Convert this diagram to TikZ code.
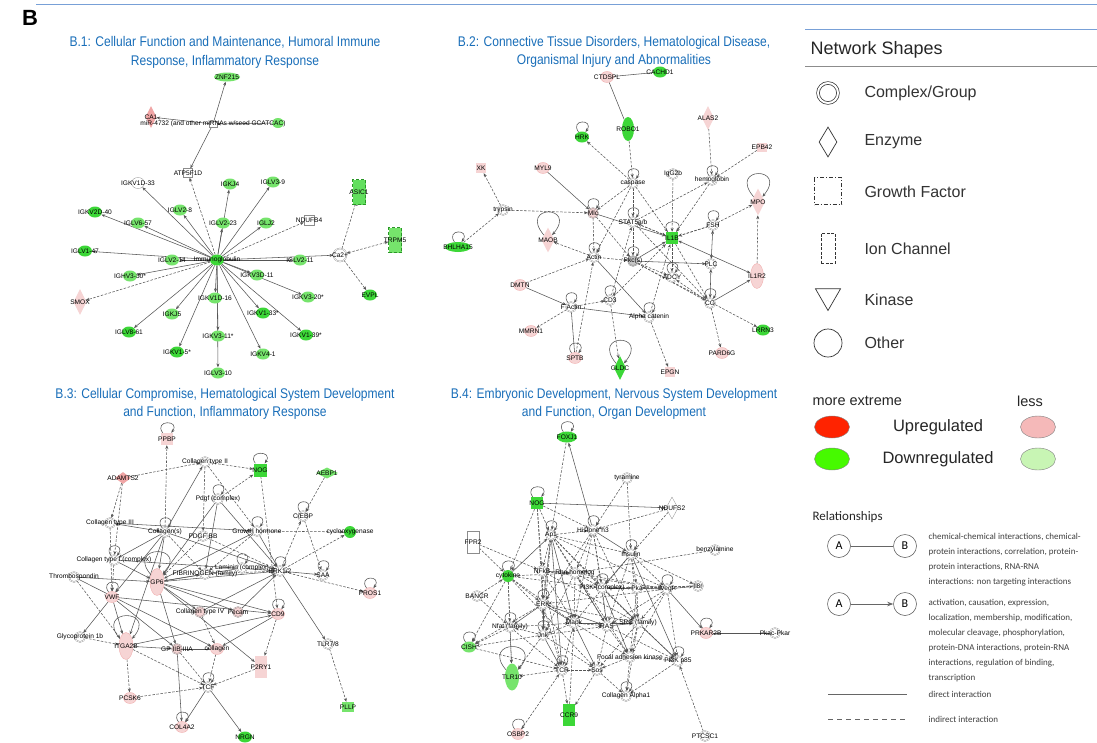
\documentclass[tikz,border=0pt]{standalone}
\usepackage{fontspec}
\setmainfont{Liberation Sans}
\newfontfamily\titlefont[FakeStretch=0.86]{Liberation Sans}
\newfontfamily\calfont{Carlito}
\usetikzlibrary{shapes.geometric,arrows.meta}

\definecolor{ttlblue}{RGB}{25,110,185}
\definecolor{gdark}{RGB}{60,215,55}
\definecolor{glight}{RGB}{118,228,108}
\definecolor{pinkn}{RGB}{246,212,212}
\definecolor{pinkd}{RGB}{240,165,165}
\definecolor{edgegray}{RGB}{85,85,85}
\definecolor{cxgray}{RGB}{140,140,140}
\definecolor{legred}{RGB}{255,35,0}
\definecolor{leggreen}{RGB}{70,250,0}
\definecolor{legpink}{RGB}{245,185,185}
\definecolor{legpale}{RGB}{200,245,180}
\definecolor{rulblue}{RGB}{120,160,215}

\pgfdeclarelayer{bg}
\pgfdeclarelayer{edges}
\pgfsetlayers{bg,edges,main}

\tikzset{
  lbl/.style={font=\fontsize{6.6}{7}\selectfont, inner sep=0pt},
  gd/.style={ellipse, fill=gdark, minimum width=14, minimum height=11, inner sep=0pt, label={[lbl]center:#1}},
  gl/.style={gd=#1, fill=glight},
  pk/.style={ellipse, fill=pinkn, draw=pinkd, line width=0.3pt, minimum width=13, minimum height=11, inner sep=0pt, label={[lbl]center:#1}},
  wh/.style={pk=#1, fill=white, draw=cxgray},
  cx/.style={circle, draw=cxgray, double=white, double distance=0.6pt, line width=0.35pt, fill=white, minimum size=10, inner sep=0pt, label={[lbl]center:#1}},
  cxp/.style={cx=#1, double=pinkn, fill=pinkn},
  enz/.style={diamond, fill=pinkn, minimum width=12, minimum height=24, inner sep=0pt, label={[lbl]center:#1}},
  box/.style={rectangle, fill=pinkn, minimum width=12, minimum height=22, inner sep=0pt, label={[lbl]center:#1}},
  ind/.style={dash pattern=on 2.5pt off 1.5pt},
  lp/.style={loop above, out=125, in=55, min distance=16},
  biglp/.style={loop above, out=130, in=50, min distance=40},
  ttl/.style={align=center, text=ttlblue, font={\titlefont\fontsize{14}{18.5}\selectfont}},
  legtxt/.style={anchor=west, text=black!80, font=\fontsize{16}{18}\selectfont},
  reltxt/.style={anchor=north west, align=left, text=black!75, font={\calfont\fontsize{9}{15}\selectfont}},
  abc/.style={circle, draw=black!60, line width=0.6pt, minimum size=23, inner sep=0pt, font={\calfont\fontsize{12}{12}\selectfont}}
}

\begin{document}
\begin{tikzpicture}[x=1pt, y=-1pt, >={Stealth[length=3.8pt,width=3pt]}]
\useasboundingbox (0,0) rectangle (1097,742);
\begin{pgfonlayer}{bg}
\fill[white] (0,0) rectangle (1097,742);
\end{pgfonlayer}

% frame and titles
\draw[rulblue, line width=0.8pt] (36,4) -- (1097,4);
\node[font=\bfseries\fontsize{22}{22}\selectfont] (panel) at (30,18) {B};
\node[ttl] (t1) at (225,52.5) {B.1: Cellular Function and Maintenance, Humoral Immune\\Response, Inflammatory Response};
\node[ttl] (t2) at (614,52) {B.2: Connective Tissue Disorders, Hematological Disease,\\Organismal Injury and Abnormalities};
\node[ttl] (t3) at (225,404) {B.3: Cellular Compromise, Hematological System Development\\and Function, Inflammatory Response};
\node[ttl] (t4) at (614,404) {B.4: Embryonic Development, Nervous System Development\\and Function, Organ Development};

% B.1
\node[gl=ZNF215, minimum width=26, minimum height=9] (znf) at (227,77) {};
\node[enz=CA1, fill=pinkd, minimum width=11, minimum height=22] (ca1) at (151,117) {};
\node[gl=, minimum width=12, minimum height=10] (gx) at (278,123) {};
\node[rectangle, draw=cxgray, fill=white, minimum width=8, minimum height=6, inner sep=0pt, label={[lbl]center:miR-4732 (and other miRNAs w/seed GCATCAC)}] (mir) at (213,124) {};
\node[rectangle, draw=cxgray, fill=white, minimum size=9, inner sep=0pt, label={[lbl]center:ATP5F1D}] (atp) at (188,173) {};
\node[wh=IGKV1D-33] (igkv1d33) at (138,183) {};
\node[gl=IGKJ4] (igkj4) at (230,184) {};
\node[gl=IGLV3-9] (iglv39) at (273,182) {};
\node[rectangle, fill=gdark!80!white, draw=gdark!70!black, densely dashed, line width=0.3pt, minimum width=13, minimum height=25, inner sep=0pt, label={[lbl]center:ASIC1}] (asic1) at (359,192) {};
\node[gd=IGKV2D-40] (igkv2d40) at (95,212) {};
\node[gl=IGLV2-8] (iglv28) at (180,210) {};
\node[gl=IGLV6-57] (iglv657) at (138,223) {};
\node[gl=IGLV2-23] (iglv223) at (223,223) {};
\node[gl=IGLJ2] (iglj2) at (266,223) {};
\node[rectangle, draw=cxgray, fill=white, minimum size=10, inner sep=0pt, label={[lbl]center:NDUFB4}] (ndufb4) at (309,220) {};
\node[rectangle, fill=glight, draw=gdark!70!black, densely dashed, line width=0.3pt, minimum width=13, minimum height=25, inner sep=0pt, label={[lbl]center:TRPM5}] (trpm5) at (395,240) {};
\node[gd=IGLV1-47] (iglv147) at (85,251) {};
\node[gd=Immunoglobulin] (ig) at (217,260) {};
\node[gl=IGLV2-14] (iglv214) at (172,260) {};
\node[gl=IGLV2-11] (iglv211) at (300,260) {};
\node[cx=Ca2+, minimum size=13] (ca) at (340,255) {};
\node[gl=IGHV3-30*] (ighv330) at (130,276) {};
\node[gl=IGKV3D-11] (igkv3d11) at (257,275) {};
\node[enz=SMOX, minimum width=13, minimum height=26] (smox) at (80,302) {};
\node[gl=IGKV1D-16] (igkv1d16) at (215,298) {};
\node[gl=IGKV3-20*] (igkv320) at (308,297) {};
\node[gd=EVPL] (evpl) at (370,295) {};
\node[gl=IGKJ5] (igkj5) at (172,314) {};
\node[gd=IGKV1-33*] (igkv133) at (263,313) {};
\node[gd=IGLV8-61] (iglv861) at (129,332) {};
\node[gl=IGKV3-11*] (igkv311) at (218,336) {};
\node[gd=IGKV1-39*] (igkv139) at (306,335) {};
\node[gd=IGKV1-5*] (igkv15) at (177,352) {};
\node[gl=IGKV4-1] (igkv41) at (263,354) {};
\node[gl=IGLV3-10] (iglv310) at (218,373) {};

% B.2
\node[pk=CTDSPL] (ctdspl) at (607,77) {};
\node[gd=CACHD1] (cachd1) at (660,72) {};
\node[gd=ROBO1, minimum width=12, minimum height=24] (robo1) at (628,129) {};
\node[gd=HRK] (hrk) at (582,137) {};
\node[enz=ALAS2] (alas2) at (708,118) {};
\node[box=EPB42, minimum width=10, minimum height=9] (epb42) at (762,147) {};
\node[box=XK, minimum width=10, minimum height=10] (xk) at (481,168) {};
\node[pk=MYL9] (myl9) at (543,168) {};
\node[cx=caspase] (caspase) at (633,183) {};
\node[cx=IgG2b] (igg2b) at (673,174) {};
\node[cx=hemoglobin] (hemo) at (712,180) {};
\node[enz=MPO, minimum width=14, minimum height=27] (mpo) at (758,202) {};
\node[cx=trypsin] (trypsin) at (503,210) {};
\node[cxp=Mlc] (mlc) at (593,213) {};
\node[cx=STAT5a/b] (stat5) at (633,222) {};
\node[cx=FSH] (fsh) at (713,225) {};
\node[enz=MAOB, minimum width=13, minimum height=25] (maob) at (548,240) {};
\node[gd=BHLHA15, minimum width=26, minimum height=10] (bhlha15) at (458,247) {};
\node[rectangle, fill=gdark, minimum size=12, inner sep=0pt, label={[lbl]center:IL1B}] (il1b) at (672,238) {};
\node[cx=Actin] (actin) at (594,257) {};
\node[cx=Pkc(s), double=gray!45, fill=gray!45] (pkc) at (633,261) {};
\node[cx=PLC] (plc) at (711,264) {};
\node[pk=IL1R2, minimum width=13, minimum height=25] (il1r2) at (757,276) {};
\node[cx=ADCY] (adcy) at (672,277) {};
\node[pk=DMTN] (dmtn) at (520,285) {};
\node[cx=CG] (cg) at (710,303) {};
\node[cx=CD3] (cd3) at (610,300) {};
\node[cx=F Actin] (factin) at (571,307) {};
\node[cx=Alpha catenin] (alphacat) at (649,317) {};
\node[pk=MMRN1] (mmrn1) at (531,331) {};
\node[gd=LRRN3] (lrrn3) at (763,330) {};
\node[pk=SPTB] (sptb) at (575,358) {};
\node[enz=GLDC, fill=gdark, minimum width=12, minimum height=24] (gldc) at (620,368) {};
\node[box=EPGN, minimum width=10, minimum height=10] (epgn) at (670,372) {};
\node[pk=PARD6G] (pard6g) at (722,353) {};

% B.3
\node[box=PPBP, minimum width=12, minimum height=12] (ppbp) at (167,439) {};
\node[cx=Collagen type II] (col2) at (205,462) {};
\node[box=NOG, fill=gdark, minimum width=13, minimum height=13] (nog) at (260,470) {};
\node[enz=AEBP1, fill=glight, minimum width=22, minimum height=11] (aebp1) at (327,473) {};
\node[enz=ADAMTS2, fill=pinkd, minimum width=16, minimum height=12] (adamts2) at (123,478) {};
\node[cx=Pdgf (complex)] (pdgfc) at (218,499) {};
\node[cx=C/EBP] (cebp) at (303,516) {};
\node[cx=Collagen type III] (col3) at (110,523) {};
\node[cx=Collagen(s)] (cols) at (165,532) {};
\node[cx=PDGF BB] (pdgfbb) at (203,536) {};
\node[cx=Growth hormone] (gh) at (257,531) {};
\node[gd=cyclooxygenase, minimum width=12, minimum height=12] (cox) at (350,532) {};
\node[cx=Collagen type I (complex)] (col1) at (114,560) {};
\node[cx=Thrombospondin] (thbs) at (74,577) {};
\node[pk=GP6, minimum width=14, minimum height=27] (gp6) at (157,582) {};
\node[cx=FIBRINOGEN (family)] (fib) at (205,574) {};
\node[cx=Laminin (complex)] (lam) at (242,568) {};
\node[cx=ERK1/2] (erk) at (280,571) {};
\node[cx=SAA] (saa) at (323,575) {};
\node[pk=PROS1] (pros1) at (370,593) {};
\node[pk=VWF] (vwf) at (112,597) {};
\node[cxp=Collagen type IV] (col4) at (200,612) {};
\node[cxp=Pecam] (pecam) at (238,612) {};
\node[pk=CD9] (cd9) at (278,614) {};
\node[cx=Glycoprotein 1b] (gp1b) at (80,637) {};
\node[pk=ITGA2B, minimum width=14, minimum height=27] (itga2b) at (126,646) {};
\node[cxp=GP IIB-IIIA] (gp2b) at (177,649) {};
\node[pk=collagen] (coll) at (217,649) {};
\node[cx=TLR7/8] (tlr78) at (328,644) {};
\node[box=P2RY1] (p2ry1) at (261,667) {};
\node[cx=TCF] (tcf) at (208,687) {};
\node[pk=PCSK6] (pcsk6) at (130,698) {};
\node[box=PLLP, fill=glight, minimum width=12, minimum height=10] (pllp) at (348,707) {};
\node[pk=COL4A2] (col4a2) at (182,727) {};
\node[gd=NRGN] (nrgn) at (245,737) {};

% B.4
\node[gd=FOXJ1, minimum width=20] (foxj1) at (567,437) {};
\node[cx=tyramine] (tyr) at (627,478) {};
\node[box=NOG, fill=gdark, minimum width=12, minimum height=12] (nog4) at (537,503) {};
\node[enz=NDUFS2, fill=white, draw=cxgray, line width=0.3pt, minimum width=12, minimum height=22] (ndufs2) at (672,508) {};
\node[cx=Histone h3] (h3) at (593,530) {};
\node[cx=Ap1] (ap1) at (551,535) {};
\node[box=FPR2, fill=white, draw=cxgray, line width=0.3pt] (fpr2) at (473,542) {};
\node[cx=benzylamine] (benz) at (715,550) {};
\node[cx=Insulin] (ins) at (631,554) {};
\node[gd=cytokine, minimum width=12, minimum height=12] (cyt) at (508,576) {};
\node[cx=NFkB] (nfkb) at (542,571) {};
\node[cx=Rho homolog] (rho) at (575,573) {};
\node[cx=BANCR] (bancr) at (477,596) {};
\node[cx=PI3K (complex)] (pi3k) at (602,588) {};
\node[cx=Pka] (pka) at (637,588) {};
\node[cx=Vegf] (vegf) at (667,589) {};
\node[cx=Il8r] (il8r) at (698,586) {};
\node[cx=ERK] (erk4) at (543,604) {};
\node[cx=Nfat (family)] (nfat) at (510,627) {};
\node[cx=Mapk] (mapk) at (574,623) {};
\node[cx=RAS] (ras) at (607,626) {};
\node[cx=SRC (family)] (src) at (638,623) {};
\node[cx=Jnk] (jnk) at (543,635) {};
\node[pk=PRKAR2B] (prkar2b) at (706,633) {};
\node[cx=Pkac-Pkar] (pkac) at (775,633) {};
\node[gl=CISH] (cish) at (469,647) {};
\node[cx=Focal adhesion kinase] (fak) at (630,657) {};
\node[cx=PI3K p85] (p85) at (678,661) {};
\node[cx=TCR] (tcr) at (562,670) {};
\node[cx=Sos] (sos) at (597,670) {};
\node[gl=TLR10, minimum width=14, minimum height=27] (tlr10) at (512,677) {};
\node[cx=Collagen Alpha1] (cola1) at (626,696) {};
\node[box=CCR9, fill=gdark] (ccr9) at (569,715) {};
\node[pk=OSBP2] (osbp2) at (518,734) {};
\node[cx=PTCSC1] (ptcsc1) at (705,736) {};

% edges
\begin{pgfonlayer}{edges}
\begin{scope}[every edge/.style={draw=edgegray, line width=0.55pt}]
  % B.1
  \path[->] (mir) edge (znf) (mir) edge (atp) (mir) edge (ca1) (gx) edge (mir);
  \foreach \n in {igkv1d33,igkj4,iglv39,igkv2d40,iglv28,iglv657,iglv223,iglj2,iglv147,iglv214,iglv211,ighv330,igkv3d11,igkv1d16,igkv320,igkj5,igkv133,iglv861,igkv311,igkv139,igkv15,igkv41,iglv310,ca}
    \path[->] (ig) edge (\n);
  \path[->] (ig) edge[ind] (atp) (ig) edge[ind] (ndufb4) (ig) edge[ind] (smox);
  \path (ca) edge[ind, arrows={-Bar[width=5pt]}] (asic1);
  \path[<->] (ca) edge[ind] (trpm5);
  \path[->] (ca) edge[ind] (evpl);
  % B.2
  \path (ctdspl) edge (cachd1) (ctdspl) edge (robo1) (factin) edge (sptb);
  \foreach \a/\b in {mlc/il1b,cg/il1r2,pkc/plc,dmtn/factin,factin/alphacat,actin/alphacat,pkc/il1b,myl9/mlc}
    \path[->] (\a) edge (\b);
  \foreach \a/\b in {fsh/plc,il1b/il1r2,plc/cg}
    \path[<->] (\a) edge (\b);
  \foreach \a/\b in {robo1/caspase,caspase/hrk,alas2/hemo,epb42/hemo,trypsin/xk,bhlha15/trypsin,trypsin/mlc,caspase/mlc,caspase/stat5,caspase/il1b,caspase/actin,caspase/pkc,igg2b/il1b,hemo/il1b,stat5/hemo,fsh/mpo,il1r2/mpo,mlc/actin,mlc/pkc,stat5/il1b,fsh/il1b,actin/maob,actin/pkc,il1b/adcy,cg/pard6g,cg/adcy,pkc/cg,pkc/adcy,dmtn/actin,factin/mmrn1,factin/cd3,cd3/gldc,cd3/il1b,cd3/stat5,alphacat/epgn,alphacat/il1b,sptb/actin,pkc/lrrn3,il1b/cg,stat5/cg,il1b/stat5,fsh/il1b}
    \path[->] (\a) edge[ind] (\b);
  \foreach \n in {hrk,caspase,hemo,mlc,stat5,fsh,il1b,actin,pkc,adcy,factin,cd3,alphacat,sptb,cg,bhlha15}
    \path[->] (\n) edge[lp] (\n);
  \foreach \n in {mpo,maob,gldc}
    \path[->] (\n) edge[biglp] (\n);
  % B.3
  \foreach \a/\b in {cols/col2,pdgfc/gp6,pdgfc/erk,col3/gh,cols/gp6,cols/vwf,cols/itga2b,cols/col1,cols/erk,thbs/gp6,gp6/fib,gp6/cd9,gp6/erk,gp6/gp2b,vwf/itga2b,vwf/gp1b,vwf/gp2b,itga2b/gp2b,gp2b/coll,erk/tlr78,tcf/col4a2,gp2b/col4a2,gh/gp6,gh/erk,pdgfc/fib,col1/gp6,vwf/cd9,itga2b/cd9,lam/gp6,col4/erk,pecam/erk,gp6/pecam,cd9/coll,gp6/p2ry1,erk/saa,tcf/nrgn,col1/erk,thbs/coll,gp6/col4}
    \path[->] (\a) edge (\b);
  \path[<->] (col3) edge (cols);
  \foreach \a/\b in {cols/ppbp,adamts2/col2,adamts2/col3,adamts2/col1,col2/nog,pdgfc/nog,nog/cd9,aebp1/cebp,erk/cebp,cebp/saa,gh/cox,erk/cox,erk/pros1,col3/vwf,col1/vwf,pdgfbb/erk,col2/pdgfbb,fib/erk,lam/erk,gp1b/itga2b,itga2b/tcf,itga2b/pcsk6,pcsk6/tcf,tlr78/pllp,coll/tcf,col4/coll,thbs/itga2b,gh/fib,pdgfbb/gp6,col2/gh,p2ry1/tcf,gp2b/tcf,cols/fib,cd9/p2ry1}
    \path[->] (\a) edge[ind] (\b);
  \foreach \n in {ppbp,nog,cebp,cols,gh,col1,lam,erk,saa,pros1,vwf,cd9,tcf,col4a2,pdgfc}
    \path[->] (\n) edge[lp] (\n);
  \foreach \n in {gp6,itga2b}
    \path[->] (\n) edge[biglp] (\n);
  % B.4
  \path (prkar2b) edge (pkac);
  \foreach \a/\b in {h3/foxj1,nog4/ndufs2,ins/p85,erk4/mapk,jnk/tcr,rho/ras,mapk/sos,pi3k/pka,erk4/nfat,cyt/ap1,ap1/erk4,mapk/src,ras/src,pi3k/fak,src/p85,pka/vegf,vegf/prkar2b,jnk/erk4,nfkb/rho,h3/ins,ap1/mapk,ins/pi3k,ap1/tcr,erk4/ras}
    \path[->] (\a) edge (\b);
  \foreach \a/\b in {nog4/cyt,nog4/ap1,nog4/nfkb,nog4/erk4,nog4/h3,tyr/ins,tyr/h3,ndufs2/h3,ndufs2/ins,fpr2/cyt,fpr2/nfkb,benz/rho,cyt/rho,cyt/pi3k,cyt/nfat,cyt/cish,cyt/tlr10,bancr/cyt,ap1/h3,ap1/nfkb,ap1/ins,ap1/pi3k,ap1/vegf,ap1/jnk,ap1/src,h3/rho,h3/pi3k,h3/erk4,h3/mapk,h3/ras,ins/pka,ins/vegf,ins/mapk,ins/src,ins/il8r,nfkb/erk4,nfkb/mapk,nfkb/jnk,nfkb/tcr,nfkb/vegf,rho/pi3k,rho/mapk,rho/jnk,pi3k/vegf,pi3k/ras,pi3k/src,pi3k/p85,pka/src,vegf/il8r,vegf/src,vegf/p85,vegf/fak,vegf/erk4,il8r/pka,il8r/pi3k,erk4/jnk,erk4/tcr,erk4/cish,mapk/ras,mapk/jnk,mapk/tcr,ras/sos,ras/fak,ras/p85,src/fak,src/cola1,src/sos,jnk/nfat,jnk/tlr10,jnk/cish,nfat/cish,nfat/tlr10,nfat/tcr,fak/p85,fak/cola1,fak/sos,p85/cola1,ptcsc1/p85,tcr/sos,tcr/ccr9,tcr/tlr10,osbp2/tcr,sos/cola1,cish/tcr,bancr/nfat,ccr9/mapk,sos/ccr9,ap1/ras,vegf/ras,pka/fak,il8r/vegf,foxj1/ap1,ins/ras,cyt/sos,nfkb/src,rho/vegf,erk4/src,jnk/ras,jnk/sos,mapk/fak,h3/src,ap1/fak,nfat/mapk,cyt/erk4,cyt/mapk}
    \path[->] (\a) edge[ind] (\b);
  \foreach \n in {foxj1,nog4,h3,ap1,ins,cyt,vegf,nfat,jnk,prkar2b,cish,p85,tcr,cola1,osbp2,erk4,pi3k}
    \path[->] (\n) edge[lp] (\n);
  \path[->] (tlr10) edge[biglp] (tlr10);
\end{scope}
\end{pgfonlayer}

% legend: shapes
\draw[rulblue, line width=1pt] (805,29) -- (1097,29);
\node[anchor=west, text=black!85, font=\fontsize{18}{20}\selectfont] (nshead) at (807,50) {Network Shapes};
\draw[black!45, line width=1pt] (805,66) -- (1097,66);
\node[circle, draw=black!80, double=white, double distance=2pt, line width=0.7pt, minimum size=20] (lgcx) at (828,93) {};
\node[diamond, draw=black!80, line width=0.7pt, minimum width=18, minimum height=30, inner sep=0pt] (lgenz) at (828,142) {};
\node[rectangle, draw=black!80, line width=0.7pt, dash pattern=on 4pt off 2pt on 1pt off 2pt, minimum size=27] (lggf) at (828,191) {};
\node[rectangle, draw=black!80, line width=0.7pt, dash pattern=on 3pt off 1.5pt, minimum width=14, minimum height=30] (lgion) at (828,248) {};
\node[regular polygon, regular polygon sides=3, shape border rotate=180, draw=black!80, line width=0.7pt, minimum size=29, inner sep=0pt] (lgkin) at (828,296) {};
\node[circle, draw=black!80, line width=0.7pt, minimum size=28] (lgoth) at (828,343) {};
\node[legtxt] (lcx) at (861,93) {Complex/Group};
\node[legtxt] (lenz) at (861,142) {Enzyme};
\node[legtxt] (lgf) at (861,192) {Growth Factor};
\node[legtxt] (lion) at (861,249) {Ion Channel};
\node[legtxt] (lkin) at (861,300) {Kinase};
\node[legtxt] (loth) at (861,343) {Other};

% legend: colours
\node[anchor=west, text=black!85, font=\fontsize{14.5}{16}\selectfont] (more) at (809,401) {more extreme};
\node[text=black!85, font=\fontsize{14.5}{16}\selectfont] (less) at (1030,401) {less};
\node[ellipse, fill=legred, draw=black!50, minimum width=35, minimum height=22] (upx) at (832,427) {};
\node[ellipse, fill=leggreen, draw=black!50, minimum width=35, minimum height=22] (dnx) at (832,459) {};
\node[ellipse, fill=legpink, draw=black!50, minimum width=35, minimum height=22] (upl) at (1038,427) {};
\node[ellipse, fill=legpale, draw=black!50, minimum width=35, minimum height=22] (dnl) at (1038,459) {};
\node[text=black!85, font=\fontsize{16.5}{18}\selectfont] (upr) at (938,427) {Upregulated};
\node[text=black!85, font=\fontsize{16.5}{18}\selectfont] (dnr) at (938,459) {Downregulated};

% legend: relationships
\node[anchor=west, text=black!85, font={\calfont\fontsize{13}{14}\selectfont}] (relh) at (809,517) {Relationships};
\node[abc] (ra1) at (839,546) {A};
\node[abc] (rb1) at (905,546) {B};
\draw[black!60, line width=0.8pt] (ra1) -- (rb1);
\node[reltxt] (rt1) at (925,530) {chemical-chemical interactions, chemical-\\protein interactions, correlation, protein-\\protein interactions, RNA-RNA\\interactions: non targeting interactions};
\node[abc] (ra2) at (839,604) {A};
\node[abc] (rb2) at (905,604) {B};
\draw[black!60, line width=0.8pt, -{Stealth[length=6pt,width=4.5pt]}] (ra2) -- (rb2);
\node[reltxt] (rt2) at (925,596) {activation, causation, expression,\\localization, membership, modification,\\molecular cleavage, phosphorylation,\\protein-DNA interactions, protein-RNA\\interactions, regulation of binding,\\transcription};
\coordinate (dl1) at (828,694);
\coordinate (dl2) at (907,694);
\coordinate (il1) at (828,719);
\coordinate (il2) at (907,719);
\draw[black!60, line width=0.8pt] (dl1) -- (dl2);
\draw[black!60, line width=0.8pt, dash pattern=on 5pt off 4pt] (il1) -- (il2);
\node[anchor=west, text=black!75, font={\calfont\fontsize{9}{10}\selectfont}] (dtx) at (925,694) {direct interaction};
\node[anchor=west, text=black!75, font={\calfont\fontsize{9}{10}\selectfont}] (itx) at (925,719) {indirect interaction};
\end{tikzpicture}
\end{document}
